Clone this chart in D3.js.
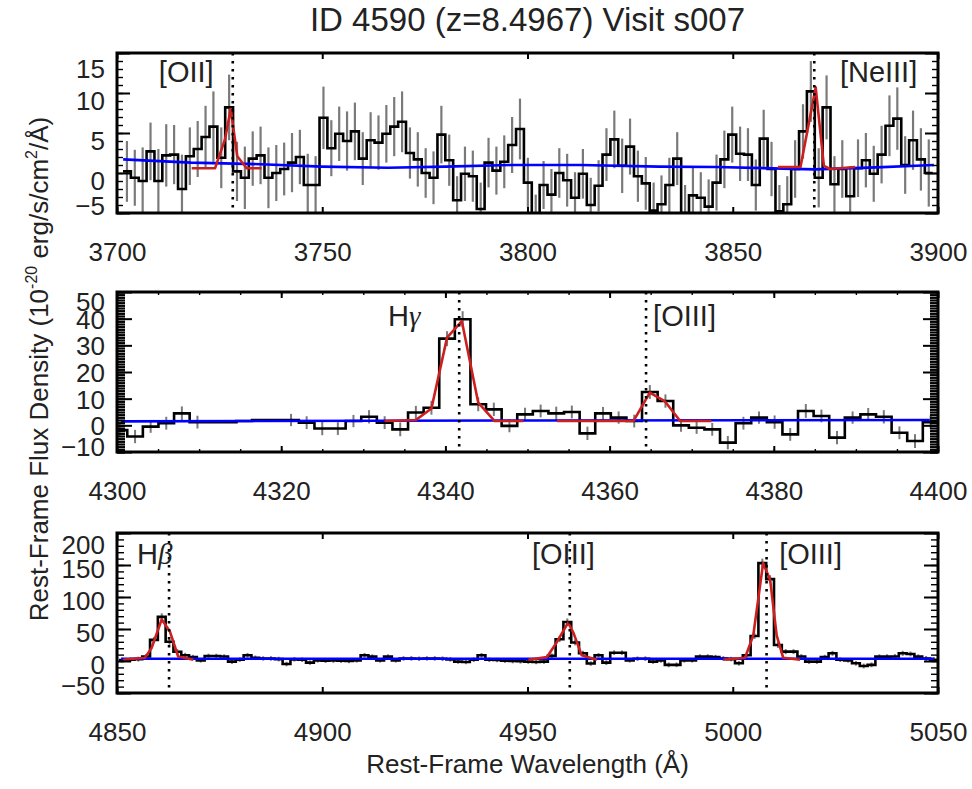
<!DOCTYPE html>
<html>
<head>
<meta charset="utf-8">
<script src="https://cdn.jsdelivr.net/npm/d3@7"></script>
<style>body{margin:0;background:#fff;}</style>
</head>
<body>
<script>
// panel 1: 3700-3900 A, bins of ~1.915 A
var flux1 = [0.2,-0.6,-1.0,2.7,-1.0,2.2,2.3,-2.0,2.1,3.0,
  4.5,5.8,1.9,8.2,0.2,-0.6,1.8,2.2,-0.6,0.0,
  0.5,1.3,2.0,-1.5,-1.5,6.9,3.1,4.9,4.0,5.2,
  1.8,4.1,3.8,4.9,5.8,6.4,2.5,1.7,0.0,-0.6,
  4.8,1.6,-3.4,-0.1,-0.4,-4.5,1.3,0.3,1.4,3.5,
  5.5,-1.2,-6.0,-1.5,-2.7,0.0,-0.9,-3.1,-0.1,-4.0,
  -1.6,2.3,4.2,0.9,3.3,-0.4,-1.3,-4.7,-3.9,-1.5,
  1.8,-5.0,-2.8,-3.1,-4.2,-1.2,1.7,4.8,2.4,2.3,
  -1.5,4.3,0.5,-4.8,-3.9,0.5,5.2,10.2,-0.6,8.2,
  -1.4,0.5,-2.9,0.6,1.6,-0.1,2.3,5.9,6.8,1.0,
  4.1,1.7,0.0];
var err1 = [3.8,3.5,4.2,3.6,4.0,3.9,3.7,4.3,3.6,3.5,
  3.9,4.4,3.8,4.1,3.7,3.9,3.4,3.6,3.8,3.5,
  3.3,3.7,3.4,3.9,3.6,3.9,3.5,3.4,3.7,3.6,
  3.3,3.5,3.4,3.6,3.7,3.8,3.2,3.4,3.1,3.3,
  3.6,3.2,3.0,3.4,3.2,3.3,3.1,3.0,3.3,3.5,
  3.8,3.1,3.3,3.0,3.2,3.1,3.3,3.2,3.1,3.4,
  3.2,3.3,3.6,3.4,3.5,3.2,3.3,3.5,3.6,3.4,
  3.3,3.5,3.6,3.2,3.4,3.5,3.6,3.5,3.4,3.3,
  3.2,3.6,3.4,3.3,3.5,3.6,3.4,3.8,3.7,4.0,
  3.5,3.6,3.7,3.6,3.4,3.5,3.6,3.8,3.9,3.6,
  3.7,3.9,4.2];
var cont1 = [[3701.5,1.7],[3718,1.3],[3735,1.1],[3750,0.8],[3766,0.65],[3780,0.8],[3796,1.0],
  [3813,1.0],[3832,0.8],[3846,0.75],[3870,0.45],[3885,0.7],[3899,1.0]];
var modelOII = [[3718.2,0.6],[3723.9,0.6],[3726.3,4.2],[3727.7,8.0],[3729.3,2.1],[3731.6,0.6],[3735.2,0.6]];
var modelNeIII = [[3861,0.75],[3866.5,0.75],[3870.2,10.7],[3872.2,0.9],[3873.7,0.5],[3879.8,0.75]];
var lineWave1 = [3728.2, 3869.86];

// panel 2: 4300-4400 A
var flux2 = [-1.8,-4.2,-0.5,0.8,4.5,1.2,1.2,1.2,1.6,2.0,
  2.0,2.0,1.0,-1.2,-1.2,1.6,3.2,1.0,-1.5,4.8,
  6.6,32.5,39.8,7.9,6.0,-0.2,4.1,5.4,4.5,5.0,
  -3.0,4.5,2.9,1.6,12.5,9.1,0.0,-0.9,-1.5,-6.5,
  0.8,2.9,1.2,-3.4,5.4,3.5,-4.6,2.9,4.1,3.2,
  -2.8,-5.9,1.2];
var err2 = [2.4,2.5,2.3,2.4,2.6,2.4,0,0,0,0,
  0,2.3,2.4,2.5,2.4,2.3,2.5,2.4,2.6,2.5,
  2.6,2.8,3.0,2.6,2.5,2.4,2.5,2.4,2.5,2.4,
  2.5,2.4,2.3,2.4,2.6,2.5,2.4,2.3,2.4,2.5,
  2.4,2.3,2.5,2.4,2.6,2.4,2.5,2.3,2.4,2.5,
  2.4,2.6,2.5];
var cont2 = [[4300.5,1.5],[4350,1.8],[4399,2.0]];
var modelHg = [[4332.6,1.6],[4336.4,2.0],[4338.3,6.3],[4340.2,32.9],[4342.0,39.1],[4344.0,8.5],[4346.0,1.6],[4349.5,1.6]];
var modelOIII4363 = [[4353.6,1.6],[4362.9,1.6],[4364.9,12.3],[4366.7,9.1],[4368.6,1.6],[4372.4,1.6]];
var lineWave2 = [4341.68, 4364.44];

// panel 3: 4850-5050 A
var flux3 = [1.5,2,3,7,33,69,30,14.5,9,6,
  1,7.8,7.8,7,-1,2,8.9,5,4,4,
  3,-4.7,2.6,2,-2.5,1,0.5,0.8,0.5,0,
  1,8.9,6.8,1,6.8,1,4,4,3.5,4,
  4,3.5,2.5,-1,-1.5,2,8.9,2,1.5,0.5,
  0,-0.5,-1,-1.5,-1,8,34,61,29,12,
  -4,9,-2.6,13,13,1,3.6,3.6,-1,1,
  -6,-6,1,1,6.8,6.8,6,4,3,-3.6,
  9,39,153,128,25,14.6,14.6,7,-1,-1,
  6,12,2,1,-3.6,-7.8,-6,6.8,6.8,7,
  12,11,6.8,4,2];
var err3 = [3.5,3.5,3.8,4,4.5,5.5,4.5,4,3.8,3.6,
  3.5,3.6,3.5,3.4,3.6,3.5,3.7,3.5,3.4,3.5,
  3.6,3.5,3.4,3.6,3.5,3.4,3.5,3.6,3.5,3.4,
  3.5,3.7,3.6,3.5,3.6,3.4,3.5,3.6,3.5,3.4,
  3.5,3.6,3.5,3.4,3.5,3.6,3.7,3.5,3.4,3.5,
  3.6,3.5,3.4,3.5,3.5,3.8,4.5,5.5,4.5,4,
  3.6,3.5,3.7,3.6,3.5,3.4,3.5,3.6,3.5,3.6,
  3.7,3.6,3.5,3.4,3.6,3.7,3.6,3.5,3.5,3.6,
  3.8,4.5,7,6,4.5,4,3.8,3.7,3.6,3.5,
  3.6,3.8,3.6,3.5,3.7,3.8,3.7,3.6,3.7,3.8,
  3.9,3.8,3.7,3.8,3.9];
var cont3 = [[4851,3.5],[4950,3.5],[5049,3.5]];
var modelHb = [[4851.5,2],[4856.8,5],[4858.4,20],[4860.9,65],[4862.9,46],[4864.9,7],[4868.6,2]];
var modelOIII4959 = [[4950.2,2],[4954.7,6],[4957.1,29],[4959.9,60],[4961.2,44],[4963.2,9],[4966.9,2]];
var modelOIII5007 = [[4997.7,2],[5003.0,5],[5005.0,40],[5007.4,153],[5009.1,127],[5010.7,40],[5012.3,5],[5016.4,2]];
var lineWave3 = [4862.68, 4960.30, 5008.24];

var W = 972, H = 789;
var X0 = 117, X1 = 938, PH = 160;
var FONT = "'Liberation Sans', Arial, Helvetica, sans-serif";

var svg = d3.select("body").append("svg")
  .attr("width", W).attr("height", H)
  .style("font-family", FONT);

var panels = [
  {top: 53, xdom: [3700, 3900], xticks: [3700, 3750, 3800, 3850, 3900], xminor: [],
   ydom: [-5, 15], yticks: [-5, 0, 5, 10, 15], ystep: 1, majLen: 13, minLen: 6, minW: 1.4,
   w0: 3702.42, dw: 1.915, flux: flux1, err: err1, errW: 2.2, cont: cont1,
   models: [modelOII, modelNeIII], lines: lineWave1, labOff: 7, clampTop: 15, clampBot: 8, txtOff: 29,
   labels: [{at: 3710.2, t: "[OII]"}, {at: 3876.1, t: "[NeIII]"}]},
  {top: 292, xdom: [4300, 4400], xticks: [4300, 4320, 4340, 4360, 4380, 4400],
   xminor: d3.range(4305, 4400, 5),
   ydom: [-10, 50], yticks: [-10, 0, 10, 20, 30, 40, 50], ystep: 1, majLen: 15, minLen: 8, minW: 2.2,
   w0: 4300.3, dw: 1.9, flux: flux2, err: err2, errW: 2, cont: cont2,
   models: [modelHg, modelOIII4363], lines: lineWave2, labOff: 0, clampTop: 9, clampBot: 6, txtOff: 34,
   labels: [{at: 4333.0, t: "H", g: "\u03b3"}, {at: 4365.3, t: "[OIII]"}]},
  {top: 533, xdom: [4850, 5050], xticks: [4850, 4900, 4950, 5000, 5050], xminor: [],
   ydom: [-50, 200], yticks: [-50, 0, 50, 100, 150, 200], ystep: 10, majLen: 14, minLen: 7, minW: 1.4,
   w0: 4851.4, dw: 1.9, flux: flux3, err: err3, errW: 2, cont: cont3,
   models: [modelHb, modelOIII4959, modelOIII5007], lines: lineWave3, labOff: 3, clampTop: 11, clampBot: 8, txtOff: 31,
   labels: [{at: 4854.9, t: "H", g: "\u03b2"}, {at: 4951.1, t: "[OIII]"}, {at: 5011.3, t: "[OIII]"}]}
];

panels.forEach(function(p, idx) {
  var bottom = p.top + PH;
  var x = d3.scaleLinear().domain(p.xdom).range([X0, X1]);
  var y = d3.scaleLinear().domain(p.ydom).range([bottom, p.top]);
  var wave = p.flux.map(function(d, i) { return p.w0 + p.dw * i; });
  var bins = p.flux.map(function(d, i) { return {w: wave[i], f: d, e: p.err[i]}; });

  svg.append("clipPath").attr("id", "clip" + idx)
    .append("rect").attr("x", X0).attr("y", p.top).attr("width", X1 - X0).attr("height", PH);

  var g = svg.append("g");
  var data = g.append("g").attr("clip-path", "url(#clip" + idx + ")");

  // error bars
  data.selectAll("line.err")
    .data(bins.filter(function(d) { return d.e > 0; }))
    .enter().append("line")
    .attr("x1", function(d) { return x(d.w); })
    .attr("x2", function(d) { return x(d.w); })
    .attr("y1", function(d) { return y(d.f - d.e); })
    .attr("y2", function(d) { return y(d.f + d.e); })
    .attr("stroke", "#7a7a7a").attr("stroke-width", p.errW);

  // histogram
  var pts = bins.map(function(d) { return [d.w, d.f]; });
  pts.unshift([wave[0] - p.dw / 2, p.flux[0]]);
  pts.push([wave[wave.length - 1] + p.dw / 2, p.flux[p.flux.length - 1]]);
  var step = d3.line().x(function(d) { return x(d[0]); }).y(function(d) { return y(d[1]); }).curve(d3.curveStep);
  data.append("path").attr("d", step(pts))
    .attr("fill", "none").attr("stroke", "#000").attr("stroke-width", 2.6)
    .attr("stroke-linejoin", "miter");

  var line = d3.line().x(function(d) { return x(d[0]); }).y(function(d) { return y(d[1]); });
  data.append("path").attr("d", line(p.cont))
    .attr("fill", "none").attr("stroke", "#0000ff").attr("stroke-width", 2.6);
  p.models.forEach(function(m) {
    data.append("path").attr("d", line(m))
      .attr("fill", "none").attr("stroke", "#cc1f1f").attr("stroke-width", 2.6)
      .attr("stroke-linejoin", "round");
  });

  // line labels
  p.labels.forEach(function(l) {
    var t = g.append("text").attr("x", x(l.at)).attr("y", p.top + p.txtOff)
      .attr("font-size", 29).attr("fill", "#222");
    t.append("tspan").text(l.t);
    if (l.g) t.append("tspan").text(l.g)
      .attr("font-family", "'Liberation Serif', 'DejaVu Serif', serif").attr("font-style", "italic");
  });

  // dotted line positions
  data.selectAll("line.em").data(p.lines).enter().append("line")
    .attr("x1", function(d) { return x(d); }).attr("x2", function(d) { return x(d); })
    .attr("y1", p.top).attr("y2", bottom)
    .attr("stroke", "#000").attr("stroke-width", 2.6).attr("stroke-dasharray", "2.6,5.4");

  // axes
  var yminor = d3.range(p.ydom[0], p.ydom[1] + 1e-9, p.ystep);
  function put(axis, tx, ty, w) {
    var a = g.append("g").attr("transform", "translate(" + tx + "," + ty + ")").call(axis);
    a.select(".domain").remove();
    a.selectAll(".tick line").attr("stroke", "#000").attr("stroke-width", w);
    return a;
  }
  put(d3.axisLeft(y).tickValues(yminor).tickSize(-p.minLen).tickFormat(""), X0, 0, p.minW);
  put(d3.axisRight(y).tickValues(yminor).tickSize(-p.minLen).tickFormat(""), X1, 0, p.minW);
  put(d3.axisRight(y).tickValues(p.yticks).tickSize(-p.majLen).tickFormat(""), X1, 0, 2);
  var ly = put(d3.axisLeft(y).tickValues(p.yticks).tickSize(-p.majLen), X0, 0, 2);
  ly.selectAll("text")
    .attr("x", -12).attr("dy", "0.36em")
    .attr("y", function(v) {
      var yy = y(v);
      var c = Math.max(p.top + p.clampTop, Math.min(bottom - p.clampBot, yy + p.labOff));
      return c - yy;
    })
    .attr("font-size", 26).attr("fill", "#222").attr("font-family", FONT);

  if (p.xminor.length) {
    put(d3.axisBottom(x).tickValues(p.xminor).tickSize(-3).tickFormat(""), 0, bottom, 1.4);
    put(d3.axisTop(x).tickValues(p.xminor).tickSize(-3).tickFormat(""), 0, p.top, 1.4);
  }
  put(d3.axisTop(x).tickValues(p.xticks).tickSize(-6).tickFormat(""), 0, p.top, 2);
  var lx = put(d3.axisBottom(x).tickValues(p.xticks).tickSize(-6).tickFormat(d3.format("d")), 0, bottom, 2);
  lx.selectAll("text").attr("y", 48).attr("dy", 0)
    .attr("font-size", 26).attr("fill", "#222").attr("font-family", FONT);

  g.append("rect").attr("x", X0).attr("y", p.top).attr("width", X1 - X0).attr("height", PH)
    .attr("fill", "none").attr("stroke", "#000").attr("stroke-width", 3);
});

// titles
svg.append("text").attr("x", (X0 + X1) / 2).attr("y", 31)
  .attr("text-anchor", "middle").attr("font-size", 33).attr("fill", "#222")
  .text("ID 4590 (z=8.4967) Visit s007");

svg.append("text").attr("x", (X0 + X1) / 2).attr("y", 773)
  .attr("text-anchor", "middle").attr("font-size", 26).attr("fill", "#222")
  .text("Rest-Frame Wavelength (\u00c5)");

var yt = svg.append("text").attr("transform", "translate(48,369) rotate(-90)")
  .attr("text-anchor", "middle").attr("font-size", 26).attr("fill", "#222");
yt.append("tspan").text("Rest-Frame Flux Density (10");
yt.append("tspan").attr("dy", -11).attr("font-size", 16).text("-20");
yt.append("tspan").attr("dy", 11).text(" erg/s/cm");
yt.append("tspan").attr("dy", -11).attr("font-size", 16).text("2");
yt.append("tspan").attr("dy", 11).text("/\u00c5)");
</script>
</body>
</html>
